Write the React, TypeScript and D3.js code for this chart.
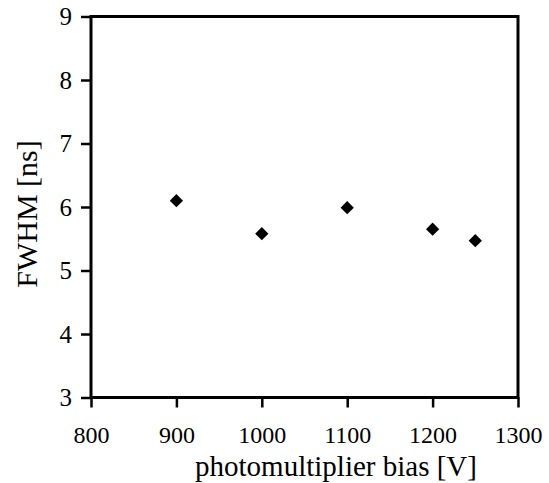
import React, { useEffect, useRef } from 'react';
import * as d3 from 'd3';

const biasVolts = [900, 1000, 1100, 1200, 1250];
const fwhmNs = [6.1, 5.58, 5.99, 5.65, 5.47];
const xTicks = [800, 900, 1000, 1100, 1200, 1300];
const yTicks = [3, 4, 5, 6, 7, 8, 9];

const App = () => {
  const svgRef = useRef<SVGSVGElement>(null);

  useEffect(() => {
    const svg = d3.select(svgRef.current);
    svg.selectAll('*').remove();

    const left = 91, right = 518, top = 16.5, bottom = 397.5;
    const x = d3.scaleLinear().domain([800, 1300]).range([left, right]);
    const y = d3.scaleLinear().domain([3, 9]).range([bottom, top]);
    const font = '"Liberation Serif", "Times New Roman", serif';

    // x axis with minor ticks
    const xAxis = svg.append('g').attr('transform', `translate(0,${bottom})`);
    xAxis.call(d3.axisBottom(x).tickValues(d3.range(850, 1300, 100)).tickSize(7).tickFormat(() => ''));
    xAxis.call(d3.axisBottom(x).tickValues(xTicks).tickSize(10).tickPadding(18).tickFormat(d3.format('d')) as any);
    xAxis.selectAll('path').remove();
    xAxis.selectAll('line').attr('stroke', '#000').attr('stroke-width', 2.5);
    xAxis.selectAll('text').style('font-family', font).style('font-size', '24px').attr('fill', '#000');

    const yAxis = svg.append('g').attr('transform', `translate(${left},0)`);
    yAxis.call(d3.axisLeft(y).tickValues(d3.range(3.5, 9, 1)).tickSize(6).tickFormat(() => ''));
    yAxis.call(d3.axisLeft(y).tickValues(yTicks).tickSize(10).tickPadding(9).tickFormat(d3.format('d')) as any);
    yAxis.selectAll('path').remove();
    yAxis.selectAll('line').attr('stroke', '#000').attr('stroke-width', 2.5);
    yAxis.selectAll('text').style('font-family', font).style('font-size', '25px').attr('fill', '#000');

    // frame
    svg.append('rect')
      .attr('x', left).attr('y', top)
      .attr('width', right - left).attr('height', bottom - top)
      .attr('fill', 'none').attr('stroke', '#000').attr('stroke-width', 3);

    // diamonds
    const diamond = d3.symbol().type(d3.symbolSquare).size(88);
    svg.selectAll('.pt')
      .data(biasVolts.map((v, i) => ({ v, f: fwhmNs[i] })))
      .enter().append('path')
      .attr('class', 'pt')
      .attr('d', diamond)
      .attr('transform', d => `translate(${x(d.v)},${y(d.f)}) rotate(45)`)
      .attr('fill', '#000');

    svg.append('text')
      .attr('x', 336).attr('y', 476)
      .attr('text-anchor', 'middle')
      .style('font-family', font).style('font-size', '29px')
      .text('photomultiplier bias [V]');

    svg.append('text')
      .attr('transform', `translate(37,214) rotate(-90)`)
      .attr('text-anchor', 'middle')
      .style('font-family', font).style('font-size', '30px')
      .text('FWHM [ns]');
  }, []);

  return (
    <svg ref={svgRef} width={549} height={483}
      style={{ position: 'absolute', left: 0, top: 0, background: '#fff' }} />
  );
};

export default App;
